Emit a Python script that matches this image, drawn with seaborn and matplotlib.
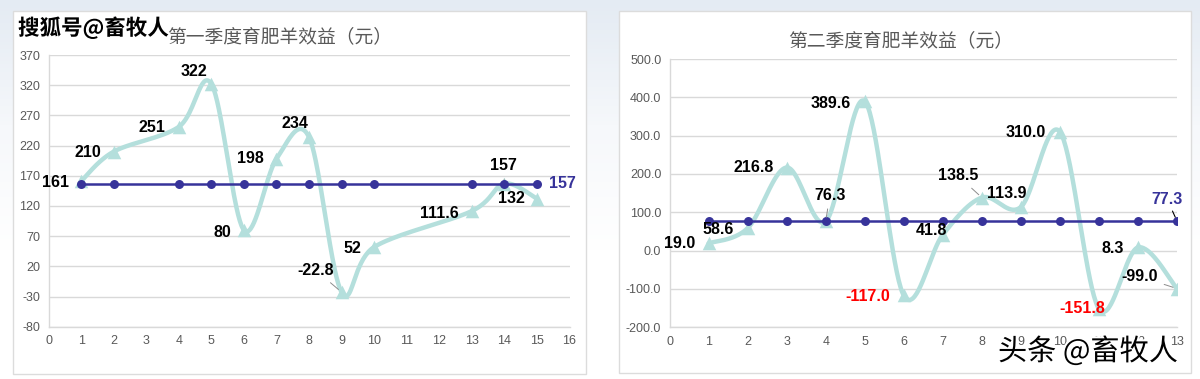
import numpy as np
import matplotlib
matplotlib.use('Agg')
import matplotlib.pyplot as plt
import matplotlib.patheffects as pe
from matplotlib.patches import Rectangle
import seaborn as sns

# ---------------- data ----------------
q1_title = '第一季度育肥羊效益（元）'
q1_x = [1, 2, 4, 5, 6, 7, 8, 9, 10, 13, 14, 15]
q1_profit = [161, 210, 251, 322, 80, 198, 234, -22.8, 52, 111.6, 157, 132]
q1_labels = ['161', '210', '251', '322', '80', '198', '234', '-22.8', '52', '111.6', '157', '132']
q1_avg = 157
q1_yticks = [-80, -30, 20, 70, 120, 170, 220, 270, 320, 370]
q1_xticks = list(range(0, 17))

q2_title = '第二季度育肥羊效益（元）'
q2_x = [1, 2, 3, 4, 5, 6, 7, 8, 9, 10, 11, 12, 13]
q2_profit = [19.0, 58.6, 216.8, 76.3, 389.6, -117.0, 41.8, 138.5, 113.9, 310.0, -151.8, 8.3, -99.0]
q2_avg = 77.3
q2_yticks = [-200, -100, 0, 100, 200, 300, 400, 500]
q2_xticks = list(range(0, 14))

# ---------------- styles / label placement (pixels) ----------------
TEAL = '#b4dfdc'
NAVY = '#37339a'
GRID = '#d9d9d9'
TICK = '#595959'

q1_offsets = [(-26, -1), (-26, -1), (-27, -1), (-17, 12), (-22, -2), (-26, 0),
              (-14, 14), (-26, 22), (-22, -1), (-32, -2), (-1, 18), (-26, 0)]
q1_leader = [False] * 10 + [True, False]
q1_leader[7] = True

q2_offsets = [(-29, 0), (-29, -1), (-33, 0), (4, 26), (-34, -2), (-36, -1), (-11, 4),
              (-24, 22), (-14, 13), (-34, -1), (-17, 0), (-25, -1), (-37, 12)]
q2_leader = [False, False, False, True, False, False, False, True, False, False, False, False, True]


def smooth_curve(xs, ys, n=40):
    # Excel-style smoothed line (Catmull-Rom as cubic bezier)
    pts = np.column_stack([xs, ys]).astype(float)
    out = []
    t = np.linspace(0, 1, n)[:, None]
    for i in range(len(pts) - 1):
        p0 = pts[i - 1] if i > 0 else pts[i]
        p1 = pts[i]
        p2 = pts[i + 1]
        p3 = pts[i + 2] if i + 2 < len(pts) else pts[i + 1]
        c1 = p1 + (p2 - p0) / 6.0
        c2 = p2 - (p3 - p1) / 6.0
        seg = (1 - t) ** 3 * p1 + 3 * (1 - t) ** 2 * t * c1 + 3 * (1 - t) * t ** 2 * c2 + t ** 3 * p2
        out.append(seg if i == 0 else seg[1:])
    out = np.vstack(out)
    return out[:, 0], out[:, 1]


def draw_panel(ax, xs, ys, labels, avg, avg_label, title, title_x, xticks, yticks, fmt,
               offsets, leaders, red_idx, avg_off, avg_ha, avg_leader):
    cx, cy = smooth_curve(xs, ys)
    sns.lineplot(x=cx, y=cy, sort=False, estimator=None, color=TEAL, linewidth=3.2, ax=ax, zorder=2)
    sns.scatterplot(x=xs, y=ys, marker='^', s=95, color=TEAL, edgecolor=TEAL, linewidth=0, ax=ax, zorder=3)
    sns.lineplot(x=xs, y=[avg] * len(xs), color=NAVY, linewidth=1.8, ax=ax, zorder=4)
    sns.scatterplot(x=xs, y=[avg] * len(xs), marker='o', s=42, color=NAVY, edgecolor=NAVY, linewidth=0, ax=ax, zorder=5)

    for i, (x, y, lab) in enumerate(zip(xs, ys, labels)):
        col = 'red' if i in red_idx else 'black'
        arrow = dict(arrowstyle='-', color='#8c8c8c', lw=0.7, shrinkA=2, shrinkB=3) if leaders[i] else None
        ax.annotate(lab, (x, y), xytext=offsets[i], textcoords='offset pixels', ha='center', va='center',
                    fontsize=11.5, fontweight='bold', color=col, arrowprops=arrow, zorder=6)
    arrow = dict(arrowstyle='-', color='black', lw=0.8, shrinkA=1, shrinkB=3) if avg_leader else None
    ax.annotate(avg_label, (xs[-1], avg), xytext=avg_off, textcoords='offset pixels', ha=avg_ha, va='center',
                fontsize=11.5, fontweight='bold', color=NAVY, arrowprops=arrow, zorder=6)

    ax.set_xlim(xticks[0], xticks[-1])
    ax.set_ylim(yticks[0], yticks[-1])
    ax.set_xticks(xticks)
    ax.set_yticks(yticks)
    ax.set_yticklabels([fmt.format(v) for v in yticks])
    ax.tick_params(axis='both', length=0, labelsize=9, colors=TICK, pad=6)
    ax.yaxis.grid(True, color=GRID, linewidth=1)
    ax.set_axisbelow(True)
    for s in ['top', 'right']:
        ax.spines[s].set_visible(False)
    for s in ['left', 'bottom']:
        ax.spines[s].set_color(GRID)
        ax.spines[s].set_linewidth(1)
    ax.set_facecolor('none')
    ax.set_xlabel('')
    ax.set_ylabel('')
    ax.set_title(title, x=title_x, family=['Noto Sans CJK SC', 'DejaVu Sans'], fontweight='light',
                 fontsize=13.5, color=TICK, pad=9)


sns.set_style('white')
plt.rcParams['font.family'] = ['Liberation Sans', 'Noto Sans CJK SC', 'DejaVu Sans']

fig = plt.figure(figsize=(12, 3.79), dpi=100)

# light gradient background
bg = fig.add_axes([0, 0, 1, 1], zorder=-3)
grad = np.linspace(0, 1, 100)[:, None] * np.ones((1, 10))
bg.imshow(grad, aspect='auto', cmap=matplotlib.colors.LinearSegmentedColormap.from_list(
    'bg', ['#e4ebf3', '#f6f8fb', '#ffffff', '#ffffff']), extent=[0, 1, 0, 1], origin='upper')
bg.axis('off')

# white card panels
for (x0, y0, x1, y1) in [(13, 11, 586, 374), (619, 11, 1191, 373)]:
    fig.add_artist(Rectangle((x0 / 1200, 1 - y1 / 379), (x1 - x0) / 1200, (y1 - y0) / 379,
                             transform=fig.transFigure, facecolor='white', edgecolor='#dcdcdc',
                             linewidth=1, zorder=-2))

ax1 = fig.add_axes([48.6 / 1200, 1 - 326.7 / 379, (569.5 - 48.6) / 1200, (326.7 - 55) / 379])
ax2 = fig.add_axes([669.6 / 1200, 1 - 327.3 / 379, (1177 - 669.6) / 1200, (327.3 - 59) / 379])

draw_panel(ax1, q1_x, q1_profit, q1_labels, q1_avg, str(q1_avg), q1_title, 0.444, q1_xticks, q1_yticks, '{:.0f}',
           q1_offsets, q1_leader, [], (12, 0), 'left', False)
draw_panel(ax2, q2_x, q2_profit, ['{:.1f}'.format(v) for v in q2_profit], q2_avg, '{:.1f}'.format(q2_avg),
           q2_title, 0.456, q2_xticks, q2_yticks, '{:.1f}', q2_offsets, q2_leader, [5, 10], (-10, 22), 'center', True)

# watermarks
stroke = [pe.withStroke(linewidth=3, foreground='white')]
fig.text(18 / 1200, 1 - 28 / 379, '搜狐号@畜牧人', family=['Noto Sans CJK SC', 'DejaVu Sans'],
         fontsize=15.5, fontweight='bold', color='black', ha='left', va='center', path_effects=stroke, zorder=10)
fig.text(998 / 1200, 1 - 352 / 379, '头条 @畜牧人', family=['Noto Sans CJK SC', 'DejaVu Sans'],
         fontsize=21, color='black', ha='left', va='center', path_effects=stroke, zorder=10)

plt.savefig('out.png', dpi=100)
